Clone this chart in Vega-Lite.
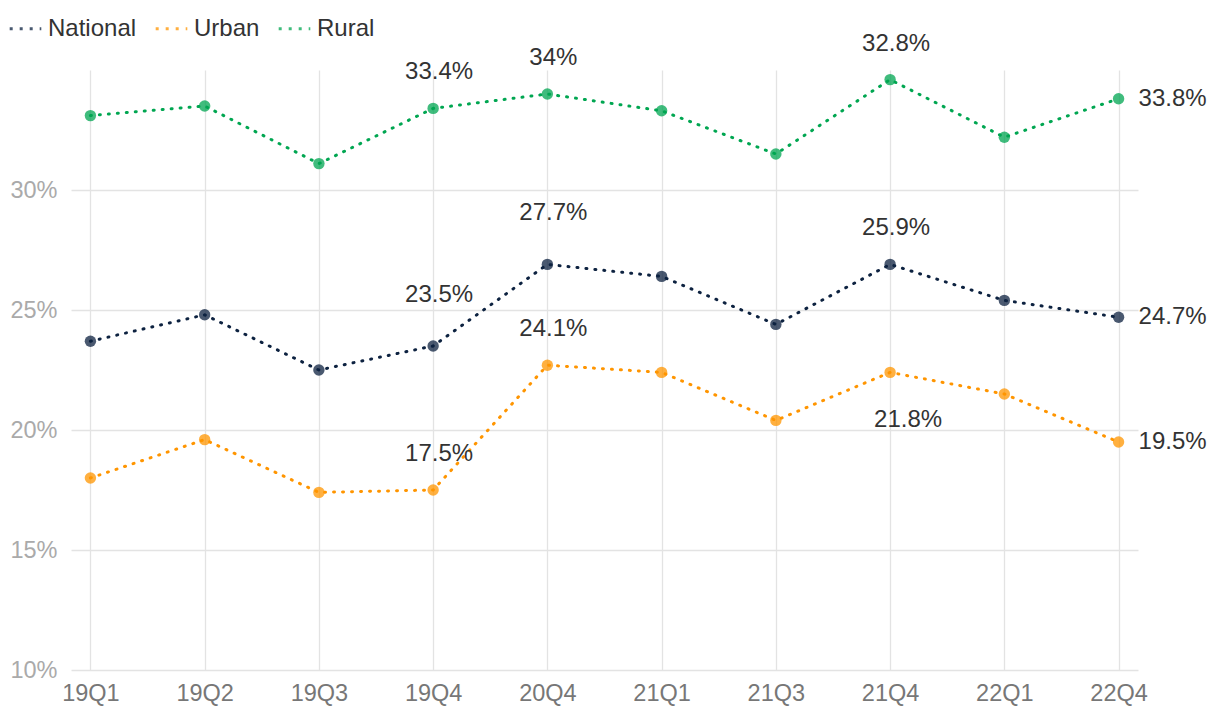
{
  "$schema": "https://vega.github.io/schema/vega-lite/v6.json",
  "autosize": "none",
  "width": 1067,
  "height": 600,
  "padding": {"left": 71, "top": 70, "right": 82, "bottom": 46},
  "background": "white",
  "config": {
    "font": "Liberation Sans",
    "view": {"stroke": null},
    "axis": {"gridColor": "#e3e3e3", "gridWidth": 1.3, "domain": false, "ticks": false, "title": null, "labelFont": "Liberation Sans", "labelFontSize": 23.5}
  },
  "data": {
    "values": [
      {"q": "19Q1", "series": "National", "value": 23.7, "label": null},
      {"q": "19Q2", "series": "National", "value": 24.8, "label": null},
      {"q": "19Q3", "series": "National", "value": 22.5, "label": null},
      {"q": "19Q4", "series": "National", "value": 23.5, "label": "23.5%"},
      {"q": "20Q4", "series": "National", "value": 26.9, "label": "27.7%"},
      {"q": "21Q1", "series": "National", "value": 26.4, "label": null},
      {"q": "21Q3", "series": "National", "value": 24.4, "label": null},
      {"q": "21Q4", "series": "National", "value": 26.9, "label": "25.9%"},
      {"q": "22Q1", "series": "National", "value": 25.4, "label": null},
      {"q": "22Q4", "series": "National", "value": 24.7, "label": "24.7%"},
      {"q": "19Q1", "series": "Urban", "value": 18.0, "label": null},
      {"q": "19Q2", "series": "Urban", "value": 19.6, "label": null},
      {"q": "19Q3", "series": "Urban", "value": 17.4, "label": null},
      {"q": "19Q4", "series": "Urban", "value": 17.5, "label": "17.5%"},
      {"q": "20Q4", "series": "Urban", "value": 22.7, "label": "24.1%"},
      {"q": "21Q1", "series": "Urban", "value": 22.4, "label": null},
      {"q": "21Q3", "series": "Urban", "value": 20.4, "label": null},
      {"q": "21Q4", "series": "Urban", "value": 22.4, "label": "21.8%"},
      {"q": "22Q1", "series": "Urban", "value": 21.5, "label": null},
      {"q": "22Q4", "series": "Urban", "value": 19.5, "label": "19.5%"},
      {"q": "19Q1", "series": "Rural", "value": 33.1, "label": null},
      {"q": "19Q2", "series": "Rural", "value": 33.5, "label": null},
      {"q": "19Q3", "series": "Rural", "value": 31.1, "label": null},
      {"q": "19Q4", "series": "Rural", "value": 33.4, "label": "33.4%"},
      {"q": "20Q4", "series": "Rural", "value": 34.0, "label": "34%"},
      {"q": "21Q1", "series": "Rural", "value": 33.3, "label": null},
      {"q": "21Q3", "series": "Rural", "value": 31.5, "label": null},
      {"q": "21Q4", "series": "Rural", "value": 34.6, "label": "32.8%"},
      {"q": "22Q1", "series": "Rural", "value": 32.2, "label": null},
      {"q": "22Q4", "series": "Rural", "value": 33.8, "label": "33.8%"}
    ]
  },
  "encoding": {
    "x": {
      "field": "q", "type": "ordinal", "sort": null,
      "scale": {"type": "point", "padding": 0.17},
      "axis": {"labelAngle": 0, "labelColor": "#777777", "labelPadding": 11, "grid": true}
    },
    "y": {
      "field": "value", "type": "quantitative",
      "scale": {"domain": [10, 35], "nice": false, "zero": false},
      "axis": {"values": [10, 15, 20, 25, 30], "labelExpr": "datum.value + '%'", "labelColor": "#aaaaaa", "labelPadding": 14, "grid": true}
    },
    "color": {
      "field": "series", "type": "nominal",
      "scale": {"domain": ["National", "Urban", "Rural"], "range": ["#0d2240", "#ff9500", "#00a651"]},
      "legend": {
        "title": null, "orient": "none", "direction": "horizontal", "legendX": -63, "legendY": -59,
        "symbolType": "stroke", "symbolStrokeWidth": 3, "symbolDash": [3, 7], "symbolSize": 1000,
        "labelFontSize": 24, "labelColor": "#333333", "labelFont": "Liberation Sans", "columnPadding": 12, "labelOffset": 5
      }
    }
  },
  "layer": [
    {"mark": {"type": "point", "filled": true, "size": 130, "opacity": 0.75}},
    {"mark": {"type": "line", "strokeWidth": 3, "strokeDash": [1, 8], "strokeCap": "round"}},
    {
      "transform": [{"filter": "datum.label != null && datum.q != '22Q4' && !(datum.q == '21Q4' && datum.series == 'Urban') && !(datum.series == 'National' && (datum.q == '19Q4' || datum.q == '20Q4'))"}],
      "mark": {"type": "text", "fontSize": 24, "color": "#333333", "dy": -36, "dx": 6, "baseline": "middle"},
      "encoding": {"text": {"field": "label"}, "color": {"value": "#333333"}}
    },
    {
      "transform": [{"filter": "datum.series == 'National' && (datum.q == '19Q4' || datum.q == '20Q4')"}],
      "mark": {"type": "text", "fontSize": 24, "color": "#333333", "dy": -51, "dx": 6, "baseline": "middle"},
      "encoding": {"text": {"field": "label"}, "color": {"value": "#333333"}}
    },
    {
      "transform": [{"filter": "datum.q == '21Q4' && datum.series == 'Urban'"}],
      "mark": {"type": "text", "fontSize": 24, "color": "#333333", "dy": 48, "dx": 18, "baseline": "middle"},
      "encoding": {"text": {"field": "label"}, "color": {"value": "#333333"}}
    },
    {
      "transform": [{"filter": "datum.q == '22Q4'"}],
      "mark": {"type": "text", "fontSize": 24, "color": "#333333", "dx": 20, "align": "left", "baseline": "middle"},
      "encoding": {"text": {"field": "label"}, "color": {"value": "#333333"}}
    }
  ]
}
